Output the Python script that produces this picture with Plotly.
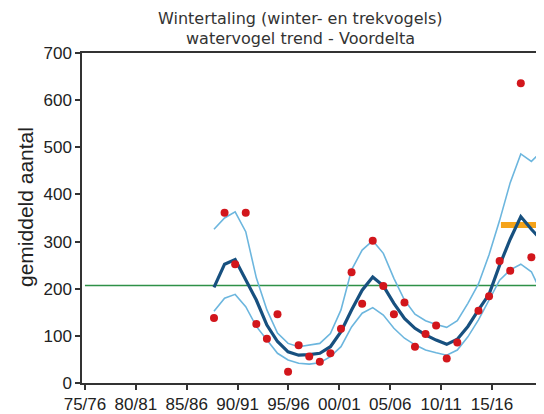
import plotly.graph_objects as go

# x position (season start year) of each yearly point
season_x = [1987.68, 1988.72, 1989.76, 1990.80, 1991.84, 1992.88, 1993.92, 1994.96,
            1996.00, 1997.04, 1998.08, 1999.12, 2000.16, 2001.20, 2002.24, 2003.28,
            2004.32, 2005.36, 2006.40, 2007.43, 2008.47, 2009.51, 2010.55, 2011.59,
            2012.63, 2013.67, 2014.71, 2015.75, 2016.79, 2017.83, 2018.87, 2019.91]

counts = [138, 361, 252, 361, 125, 94, 146, 24, 80, 56, 45, 63, 115, 235, 168, 302,
          206, 146, 171, 77, 104, 122, 52, 86, None, 153, 184, 259, 238, 636, 267, 274]

trend = [203, 252, 262, 218, 176, 123, 88, 66, 59, 60, 63, 77, 109, 155, 197, 225,
         206, 169, 137, 116, 102, 91, 82, 93, 120, 155, 188, 250, 305, 353, 326, 302]

upper = [326, 350, 363, 321, 223, 155, 106, 84, 77, 81, 84, 105, 155, 240, 282, 302,
         275, 222, 176, 146, 132, 124, 118, 132, 169, 210, 272, 345, 425, 486, 470, 492]

lower = [152, 180, 188, 162, 120, 91, 63, 49, 42, 40, 43, 56, 77, 119, 148, 160,
         144, 116, 95, 81, 70, 64, 59, 70, 98, 134, 176, 218, 240, 252, 236, 189]

baseline_x = [1975, 2021]
baseline_y = [207, 207]

recent_x = [2015.88, 2021]
recent_y = [335, 335]

tick_vals = [1975, 1980, 1985, 1990, 1995, 2000, 2005, 2010, 2015]
tick_text = ["75/76", "80/81", "85/86", "90/91", "95/96", "00/01", "05/06", "10/11", "15/16"]

# page body has an 8px default margin; plot area = 462 x 330
W, H = 536, 406
ML, MT, MB = 74, 45, 31
PH = H - MT - MB
PW = W - ML


def px_x(x):  # screen x -> paper x
    return (x - 8 - ML) / PW


def px_y(y):  # screen y -> paper y
    return (H - MB - (y - 8)) / PH


fig = go.Figure()
fig.add_trace(go.Scatter(x=baseline_x, y=baseline_y, mode="lines",
                         line=dict(color="#2e9147", width=1.5), hoverinfo="skip"))
fig.add_trace(go.Scatter(x=season_x, y=upper, mode="lines",
                         line=dict(color="#6cb6de", width=1.6)))
fig.add_trace(go.Scatter(x=season_x, y=lower, mode="lines",
                         line=dict(color="#6cb6de", width=1.6)))
fig.add_trace(go.Scatter(x=recent_x, y=recent_y, mode="lines",
                         line=dict(color="#f5a31a", width=6)))
fig.add_trace(go.Scatter(x=season_x, y=trend, mode="lines",
                         line=dict(color="#17507f", width=3.2)))
fig.add_trace(go.Scatter(x=season_x, y=counts, mode="markers",
                         marker=dict(color="#d2161c", size=8)))

fig.update_layout(
    width=W, height=H,
    margin=dict(l=ML, r=0, t=MT, b=MB),
    paper_bgcolor="white", plot_bgcolor="white",
    showlegend=False,
    font=dict(family="Liberation Sans, Arial, sans-serif", color="#222"),
    xaxis=dict(range=[1974.71, 2020.11], tickvals=tick_vals, ticktext=tick_text,
               showgrid=False, zeroline=False, showline=True, mirror=True,
               linecolor="#333", linewidth=1.5, ticks="outside", ticklen=5,
               tickcolor="#333", tickwidth=1.5, tickfont=dict(size=17)),
    yaxis=dict(range=[0, 700], tickvals=list(range(0, 701, 100)),
               showgrid=False, zeroline=False, showline=True,
               linecolor="#333", linewidth=1.5, ticks="outside", ticklen=5,
               tickcolor="#333", tickwidth=1.5, tickfont=dict(size=17)),
    annotations=[
        dict(text="Wintertaling (winter- en trekvogels)", xref="paper", yref="paper",
             x=px_x(300), y=px_y(18), xanchor="center", yanchor="middle",
             showarrow=False, font=dict(family="DejaVu Sans", size=16, color="#333")),
        dict(text="watervogel trend - Voordelta", xref="paper", yref="paper",
             x=px_x(300), y=px_y(39), xanchor="center", yanchor="middle",
             showarrow=False, font=dict(family="DejaVu Sans", size=16, color="#333")),
        dict(text="gemiddeld aantal", xref="paper", yref="paper",
             x=px_x(25), y=px_y(207), xanchor="center", yanchor="middle",
             textangle=-90, showarrow=False,
             font=dict(family="Liberation Sans, Arial", size=21, color="#222")),
    ],
)

fig.write_html("out.html")
